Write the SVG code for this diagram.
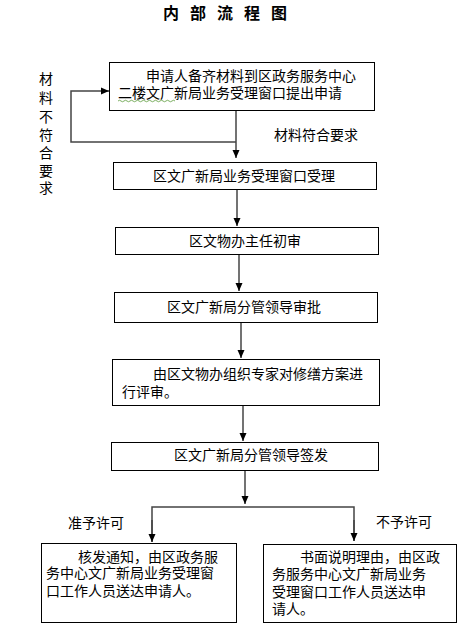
<svg xmlns="http://www.w3.org/2000/svg" width="461" height="629" viewBox="0 0 461 629">
<style>
text{font-family:"Noto Sans CJK SC","Noto Sans",sans-serif;font-size:14px;fill:#000}
.title{font-size:16px;font-weight:bold}
.box{fill:#fff;stroke:#000;stroke-width:1}
.ln{fill:none;stroke:#444;stroke-width:1.5}
</style>
<defs>
<marker id="ah" viewBox="0 0 8 8" refX="8" refY="4" markerWidth="8" markerHeight="8" markerUnits="userSpaceOnUse" orient="auto">
<path d="M0,0.5 L8,4 L0,7.5 Z" fill="#000"/>
</marker>
</defs>
<rect width="461" height="629" fill="#fff"/>
<text class="title" x="163 190 217 244 271" y="19">内部流程图</text>

<g id="connectors">
<line class="ln" x1="236" y1="110" x2="236" y2="158" marker-end="url(#ah)"/>
<polyline class="ln" points="236,142 71,142 71,91 109,91" marker-end="url(#ah)"/>
<line class="ln" x1="237" y1="189" x2="237" y2="226" marker-end="url(#ah)"/>
<line class="ln" x1="239" y1="254" x2="239" y2="291" marker-end="url(#ah)"/>
<line class="ln" x1="241" y1="322" x2="241" y2="358" marker-end="url(#ah)"/>
<line class="ln" x1="243" y1="405" x2="243" y2="441" marker-end="url(#ah)"/>
<line class="ln" x1="245" y1="470" x2="245" y2="504" marker-end="url(#ah)"/>
<polyline class="ln" points="152,542 152,507 354,507 354,541"/>
<line class="ln" x1="152" y1="520" x2="152" y2="542" marker-end="url(#ah)"/>
<line class="ln" x1="354" y1="520" x2="354" y2="541" marker-end="url(#ah)"/>
</g>

<g id="label-yes"><text x="274" y="140">材料符合要求</text></g>
<g id="label-no">
<text x="46" y="84" text-anchor="middle">材</text>
<text x="46" y="103" text-anchor="middle">料</text>
<text x="46" y="122" text-anchor="middle">不</text>
<text x="46" y="140" text-anchor="middle">符</text>
<text x="46" y="158" text-anchor="middle">合</text>
<text x="46" y="176" text-anchor="middle">要</text>
<text x="46" y="193" text-anchor="middle">求</text>
</g>

<g id="n1">
<rect class="box" x="109.5" y="62.5" width="265" height="48"/>
<text x="146" y="81">申请人备齐材料到区政务服务中心</text>
<text x="118" y="98">二楼文广新局业务受理窗口提出申请</text>
<path d="M118,101 q1.5,-1.5 3,0 t3,0 t3,0 t3,0 t3,0 t3,0 t3,0 t3,0 t3,0 t3,0 t3,0 t3,0 t3,0 t3,0 t3,0 t3,0 t3,0 t3,0 t3,0" fill="none" stroke="#5a9a3a" stroke-width="0.8"/>
</g>
<g id="n2">
<rect class="box" x="113.5" y="162.5" width="263" height="27"/>
<text x="153" y="181">区文广新局业务受理窗口受理</text>
</g>
<g id="n3">
<rect class="box" x="115.5" y="227.5" width="263" height="27"/>
<text x="189" y="246">区文物办主任初审</text>
</g>
<g id="n4">
<rect class="box" x="114.5" y="292.5" width="263" height="30"/>
<text x="167" y="312">区文广新局分管领导审批</text>
</g>
<g id="n5">
<rect class="box" x="112.5" y="359.5" width="267" height="46"/>
<text x="153" y="379">由区文物办组织专家对修缮方案进</text>
<text x="122" y="397">行评审。</text>
</g>
<g id="n6">
<rect class="box" x="111.5" y="442.5" width="267" height="28"/>
<text x="174" y="460">区文广新局分管领导签发</text>
</g>

<g id="label-approve"><text x="68" y="528">准予许可</text></g>
<g id="label-reject"><text x="376" y="527">不予许可</text></g>

<g id="n7">
<rect class="box" x="41.5" y="543.5" width="195" height="79"/>
<text x="78" y="562">核发通知，由区政务服</text>
<text x="46" y="578">务中心文广新局业务受理窗</text>
<text x="46" y="596">口工作人员送达申请人。</text>
</g>
<g id="n8">
<rect class="box" x="263.5" y="544.5" width="193" height="78"/>
<text x="300" y="562">书面说明理由，由区政</text>
<text x="272" y="579">务服务中心文广新局业务</text>
<text x="272" y="597">受理窗口工作人员送达申</text>
<text x="272" y="614">请人。</text>
</g>
</svg>
